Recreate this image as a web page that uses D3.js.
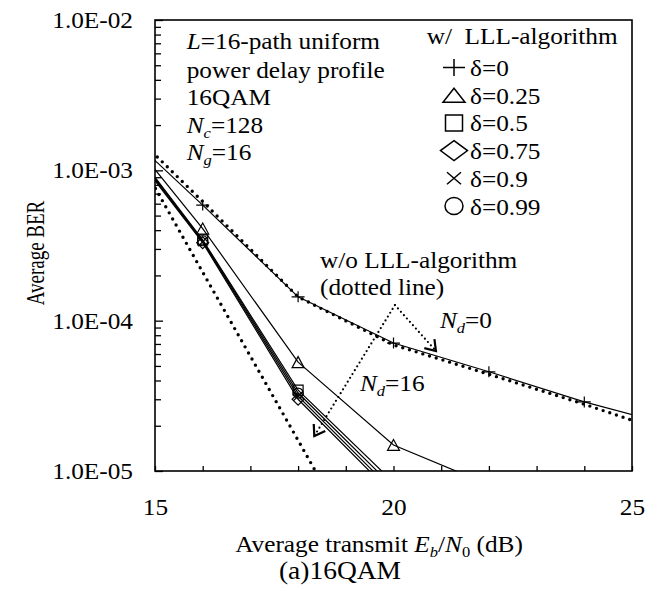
<!DOCTYPE html>
<html>
<head>
  <meta charset="utf-8">
  <script src="https://d3js.org/d3.v7.min.js"></script>
  <style>
    body { margin: 0; background: #fff; }
    svg text { font-family: "Liberation Serif", "Times New Roman", serif; font-size: 23px; fill: #000; }
  </style>
</head>
<body>
  <svg width="660" height="591"></svg>
  <script>
    // w/ LLL-algorithm (Eb/N0 in dB, BER)
    var snrDelta0 = [14, 16, 18, 20, 22, 24, 26];
    var berDelta0 = [2.3e-3, 5.87e-4, 1.44e-4, 7.1e-5, 4.57e-5, 2.88e-5, 1.95e-5];
    var snrDelta025 = [14, 16, 18, 20, 22];
    var berDelta025 = [2.5e-3, 4.1e-4, 5.3e-5, 1.49e-5, 8.1e-6];
    var snrDeltaHigh = [14, 16, 18, 20];
    var berDelta05 = [2.35e-3, 3.45e-4, 3.45e-5, 8.4e-6];
    var berDelta075 = [2.2e-3, 3.3e-4, 3.0e-5, 6.9e-6];
    var berDelta09 = [2.25e-3, 3.35e-4, 3.15e-5, 7.3e-6];
    var berDelta099 = [2.3e-3, 3.4e-4, 3.3e-5, 7.8e-6];

    // w/o LLL-algorithm (dotted lines)
    var snrNoLLLNd0 = [14, 16, 18, 20, 22, 24, 26];
    var berNoLLLNd0 = [2.6e-3, 6.2e-4, 1.44e-4, 6.9e-5, 4.4e-5, 2.78e-5, 1.7e-5];
    var snrNoLLLNd16 = [14, 16, 18, 20];
    var berNoLLLNd16 = [2.8e-3, 2.1e-4, 1.6e-5, 1.2e-6];

    var deltaLabels = ["δ=0", "δ=0.25", "δ=0.5", "δ=0.75", "δ=0.9", "δ=0.99"];
    var markTypes = ["plus", "tri", "square", "diamond", "cross", "circle"];

    var xTicks = [15, 16, 17, 18, 19, 20, 21, 22, 23, 24, 25];
    var xTickLabels = {15: "15", 20: "20", 25: "25"};
    var yMajor = [1e-2, 1e-3, 1e-4, 1e-5];
    var yTickLabels = ["1.0E-02", "1.0E-03", "1.0E-04", "1.0E-05"];

    var svg = d3.select("svg"),
        margin = {top: 20, right: 28, bottom: 120, left: 155},
        width = +svg.attr("width") - margin.left - margin.right,
        height = +svg.attr("height") - margin.top - margin.bottom;

    var SX = 1.1; // glyphs in the reference are a bit wide

    var x = d3.scaleLinear().domain([15, 25]).range([0, width]);
    var y = d3.scaleLog().domain([1e-5, 1e-2]).range([height, 0]);

    var g = svg.append("g").attr("transform", "translate(" + margin.left + "," + margin.top + ")");

    g.append("clipPath").attr("id", "plot-clip")
      .append("rect").attr("width", width).attr("height", height);

    // axes with inward ticks
    var yAx = g.append("g")
      .call(d3.axisLeft(y).tickValues(yMajor).tickSize(-8).tickPadding(20).tickFormat((d, i) => yTickLabels[i]));
    yAx.selectAll("text").attr("transform", "scale(" + SX + ",1)").attr("dy", "0.33em");

    var minor = y.ticks().filter(d => yMajor.indexOf(d) < 0);
    g.append("g").call(d3.axisLeft(y).tickValues(minor).tickSize(-6).tickFormat(""));

    var xAx = g.append("g")
      .attr("transform", "translate(0," + height + ")")
      .call(d3.axisBottom(x).tickValues(xTicks).tickSize(-5).tickPadding(28).tickFormat(d => xTickLabels[d] || ""));
    xAx.selectAll("text").attr("transform", "scale(" + SX + ",1)");

    g.selectAll(".domain").remove();
    g.selectAll(".tick line").attr("stroke-width", 1.3);

    g.append("rect")
      .attr("width", width).attr("height", height)
      .attr("fill", "none").attr("stroke", "#000").attr("stroke-width", 1.6);

    var line = d3.line().x(d => x(d[0])).y(d => y(d[1]));
    var plot = g.append("g").attr("clip-path", "url(#plot-clip)");

    var solid = [
      {snr: snrDelta0, ber: berDelta0},
      {snr: snrDelta025, ber: berDelta025},
      {snr: snrDeltaHigh, ber: berDelta05},
      {snr: snrDeltaHigh, ber: berDelta075},
      {snr: snrDeltaHigh, ber: berDelta09},
      {snr: snrDeltaHigh, ber: berDelta099}
    ];
    var dotted = [
      {snr: snrNoLLLNd0, ber: berNoLLLNd0},
      {snr: snrNoLLLNd16, ber: berNoLLLNd16}
    ];

    plot.selectAll(".dotted")
      .data(dotted)
      .enter().append("path")
        .attr("class", "dotted")
        .attr("d", s => line(s.snr.map((v, i) => [v, s.ber[i]])))
        .attr("fill", "none").attr("stroke", "#000")
        .attr("stroke-width", 3.4).attr("stroke-linecap", "round")
        .attr("stroke-dasharray", "0,7");

    plot.selectAll(".solid")
      .data(solid)
      .enter().append("path")
        .attr("class", "solid")
        .attr("d", s => line(s.snr.map((v, i) => [v, s.ber[i]])))
        .attr("fill", "none").attr("stroke", "#000").attr("stroke-width", 1.2);

    function markPath(type, w, h) {
      var a = w / 2, b = h / 2;
      switch (type) {
        case "plus": return "M" + -a + ",0H" + a + "M0," + -b + "V" + b;
        case "tri": return "M0," + -b + "L" + a + "," + b + "L" + -a + "," + b + "Z";
        case "square": return "M" + -a + "," + -b + "H" + a + "V" + b + "H" + -a + "Z";
        case "diamond": return "M0," + -b + "L" + a + ",0L0," + b + "L" + -a + ",0Z";
        case "cross": return "M" + -a + "," + -b + "L" + a + "," + b + "M" + -a + "," + b + "L" + a + "," + -b;
        case "circle": return "M" + a + ",0A" + a + "," + b + " 0 1,1 " + -a + ",0A" + a + "," + b + " 0 1,1 " + a + ",0";
      }
    }
    var plotSize = {plus: [13, 11], tri: [12, 11], square: [10, 10], diamond: [12, 12], cross: [9, 9], circle: [10, 10]};
    var legSize = {plus: [22, 17], tri: [22, 14], square: [17, 16], diamond: [27, 20], cross: [14, 12], circle: [18, 17]};

    solid.forEach(function(s, k) {
      var type = markTypes[k];
      plot.selectAll(".mk" + k)
        .data(s.snr.map((v, i) => [v, s.ber[i]]))
        .enter().append("path")
          .attr("class", "mk" + k)
          .attr("transform", d => "translate(" + x(d[0]) + "," + y(d[1]) + ")")
          .attr("d", markPath(type, plotSize[type][0], plotSize[type][1]))
          .attr("fill", "none").attr("stroke", "#000").attr("stroke-width", 1.2);
    });

    // text helper: parts = [[text, flags]] with i = italic, s = subscript
    function rich(parent, px, py, parts, opts) {
      opts = opts || {};
      var tf = "translate(" + px + "," + py + ")";
      if (opts.rotate) tf += " rotate(" + opts.rotate + ") scale(1," + (opts.stretch || SX) + ")";
      else tf += " scale(" + SX + ",1)";
      var t = parent.append("text")
        .attr("transform", tf)
        .attr("text-anchor", opts.anchor || "start")
        .style("white-space", "pre");
      if (opts.size) t.style("font-size", opts.size + "px");
      var shift = 0;
      parts.forEach(function(p) {
        var f = p[1] || "";
        var sub = f.indexOf("s") >= 0 ? 5 : 0;
        var ts = t.append("tspan").attr("dy", sub - shift).text(p[0]);
        shift = sub;
        if (f.indexOf("i") >= 0) ts.style("font-style", "italic");
        if (sub) ts.style("font-size", "15px");
      });
      return t;
    }

    // condition block
    rich(svg, 186.7, 48.5, [["L", "i"], ["=16-path uniform"]]);
    rich(svg, 186.7, 78, [["power delay profile"]]);
    rich(svg, 186.7, 105, [["16QAM"]]);
    rich(svg, 186.7, 133, [["N", "i"], ["c", "is"], ["=128"]]);
    rich(svg, 186.7, 160, [["N", "i"], ["g", "is"], ["=16"]]);

    // legend
    rich(svg, 426.7, 43.5, [["w/  LLL-algorithm"]]);
    var leg = svg.append("g").attr("transform", "translate(454,76)");
    deltaLabels.forEach(function(lab, k) {
      var type = markTypes[k];
      leg.append("path")
        .attr("transform", "translate(0," + (k * 27.7 - 8.5) + ")")
        .attr("d", markPath(type, legSize[type][0], legSize[type][1]))
        .attr("fill", "none").attr("stroke", "#000").attr("stroke-width", 1.5);
      rich(leg, 16, k * 27.7, [[lab]]);
    });

    // annotations
    rich(svg, 320, 268, [["w/o LLL-algorithm"]]);
    rich(svg, 320, 295, [["(dotted line)"]]);
    rich(svg, 440, 328, [["N", "i"], ["d", "is"], ["=0"]]);
    rich(svg, 360, 391, [["N", "i"], ["d", "is"], ["=16"]]);

    var arrowFrom = [20.03, 1.27e-4];
    var arrowTips = [[18.34, 1.71e-5], [20.89, 6.28e-5]];
    arrowTips.forEach(function(tip) {
      var x0 = x(arrowFrom[0]), y0 = y(arrowFrom[1]), x1 = x(tip[0]), y1 = y(tip[1]);
      g.append("line")
        .attr("x1", x0).attr("y1", y0).attr("x2", x1).attr("y2", y1)
        .attr("stroke", "#000").attr("stroke-width", 2.2)
        .attr("stroke-linecap", "round").attr("stroke-dasharray", "0,4.5");
      var a = Math.atan2(y1 - y0, x1 - x0), len = 12, sp = 0.6;
      g.append("path")
        .attr("d", "M" + (x1 - len * Math.cos(a - sp)) + "," + (y1 - len * Math.sin(a - sp)) +
                   "L" + x1 + "," + y1 +
                   "L" + (x1 - len * Math.cos(a + sp)) + "," + (y1 - len * Math.sin(a + sp)))
        .attr("fill", "none").attr("stroke", "#000").attr("stroke-width", 2.2);
    });

    // axis titles and caption
    rich(svg, 379, 552, [["Average transmit "], ["E", "i"], ["b", "is"], ["/"], ["N", "i"], ["0", "s"], [" (dB)"]], {anchor: "middle"});
    rich(svg, 340, 579, [["(a)16QAM"]], {anchor: "middle", size: 25});
    rich(svg, 44, 253, [["Average BER"]], {anchor: "middle", rotate: -90, size: 19, stretch: 1.3});
  </script>
</body>
</html>
